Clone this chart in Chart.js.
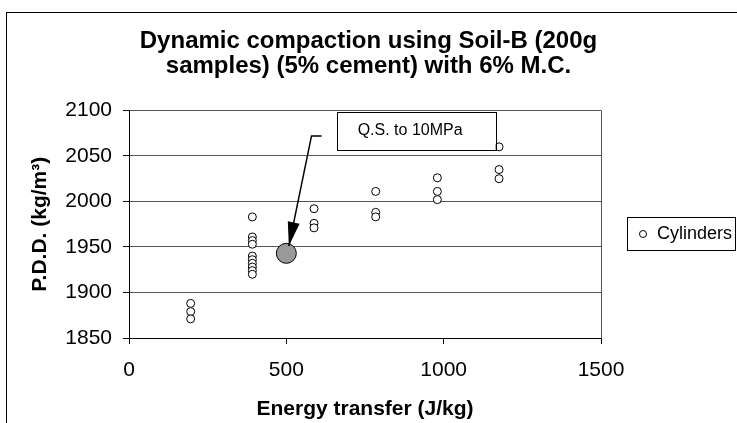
<!DOCTYPE html>
<html>
<head>
<meta charset="utf-8">
<script src="https://cdn.jsdelivr.net/npm/chart.js@4.4.1/dist/chart.umd.min.js"></script>
<style>
  body { margin: 0; background: #fff; }
  canvas { display: block; }
</style>
</head>
<body>
<canvas id="chart" width="737" height="423"></canvas>
<script>
const titleLines = ['Dynamic compaction using Soil-B (200g', 'samples) (5% cement) with 6% M.C.'];
const xTitle = 'Energy transfer (J/kg)';
const yTitle = 'P.D.D. (kg/m³)';
const seriesName = 'Cylinders';
const noteText = 'Q.S. to 10MPa';

const xTicks = [0, 500, 1000, 1500];
const yTicks = [1850, 1900, 1950, 2000, 2050, 2100];

// cylinders (energy in J/kg, density in kg/m3)
const energy = [196, 196, 196,
  392, 392, 392, 392, 392, 392, 392, 392, 392, 392,
  588, 588, 588,
  784, 784, 784,
  980, 980, 980,
  1176, 1176, 1176];
const density = [1888, 1879, 1871,
  1983, 1961, 1957, 1953, 1940, 1936, 1932, 1928, 1924, 1920,
  1992, 1976, 1971,
  2011, 1988, 1983,
  2026, 2011, 2002,
  2060, 2035, 2025];

// quasi-static point
const qsEnergy = [500];
const qsDensity = [1943];

const FONT = '"Liberation Sans", Arial, sans-serif';

function toPoints(xs, ys) {
  return xs.map((x, i) => ({ x: x, y: ys[i] }));
}

const decor = {
  id: 'decor',
  beforeDraw(chart) {
    const ctx = chart.ctx;
    ctx.save();
    ctx.fillStyle = '#fff';
    ctx.fillRect(0, 0, chart.width, chart.height);
    ctx.restore();
  },
  afterDraw(chart) {
    const ctx = chart.ctx;
    const xs = chart.scales.x;
    const ys = chart.scales.y;
    ctx.save();

    // outer frame
    ctx.strokeStyle = '#000';
    ctx.lineWidth = 1;
    ctx.strokeRect(6.5, 12.5, chart.width + 10, chart.height + 10);

    // note box
    const bx1 = xs.getPixelForValue(660), bx2 = xs.getPixelForValue(1165);
    const by1 = ys.getPixelForValue(2098.5), by2 = ys.getPixelForValue(2056.5);
    ctx.fillStyle = '#fff';
    ctx.fillRect(bx1, by1, bx2 - bx1, by2 - by1);
    ctx.strokeRect(Math.round(bx1) + 0.5, Math.round(by1) + 0.5, Math.round(bx2 - bx1), Math.round(by2 - by1));
    ctx.fillStyle = '#000';
    ctx.font = '16px ' + FONT;
    ctx.textAlign = 'center';
    ctx.textBaseline = 'middle';
    ctx.fillText(noteText, (bx1 + bx2) / 2 - 6, (by1 + by2) / 2);

    // arrow
    const sx = xs.getPixelForValue(612), sy = ys.getPixelForValue(2072);
    const ex = xs.getPixelForValue(580);
    const tx = xs.getPixelForValue(508), ty = ys.getPixelForValue(1951);
    ctx.beginPath();
    ctx.moveTo(sx, sy);
    ctx.lineTo(ex, sy);
    ctx.lineTo(tx, ty);
    ctx.lineWidth = 1.5;
    ctx.stroke();
    const ang = Math.atan2(ty - sy, tx - ex);
    const len = 24, half = 6;
    const bxh = tx - len * Math.cos(ang), byh = ty - len * Math.sin(ang);
    ctx.beginPath();
    ctx.moveTo(tx, ty);
    ctx.lineTo(bxh + half * Math.sin(ang), byh - half * Math.cos(ang));
    ctx.lineTo(bxh - half * Math.sin(ang), byh + half * Math.cos(ang));
    ctx.closePath();
    ctx.fill();

    // legend
    ctx.lineWidth = 1;
    ctx.strokeRect(627.5, 217.5, 108, 33);
    ctx.beginPath();
    ctx.arc(643, 234, 3.5, 0, Math.PI * 2);
    ctx.stroke();
    ctx.font = '18px ' + FONT;
    ctx.textAlign = 'left';
    ctx.fillText(seriesName, 657, 234);
    ctx.restore();
  }
};

new Chart(document.getElementById('chart'), {
  type: 'scatter',
  data: {
    datasets: [
      {
        label: seriesName,
        data: toPoints(energy, density),
        pointRadius: 4,
        pointBorderWidth: 1,
        pointBorderColor: '#000',
        pointBackgroundColor: '#fff',
      },
      {
        label: 'Q.S.',
        data: toPoints(qsEnergy, qsDensity),
        pointRadius: 10,
        pointBorderWidth: 1,
        pointBorderColor: '#000',
        pointBackgroundColor: '#999',
      },
    ],
  },
  options: {
    responsive: false,
    animation: false,
    events: [],
    layout: { padding: { left: 0, right: 0, top: 0, bottom: 0 } },
    plugins: {
      legend: { display: false },
      tooltip: { enabled: false },
      title: {
        display: true,
        text: titleLines,
        color: '#000',
        font: { family: FONT, size: 24, weight: 'bold', lineHeight: 1.05 },
        padding: { top: 29, bottom: 31 },
      },
    },
    scales: {
      x: {
        type: 'linear',
        min: xTicks[0],
        max: xTicks[xTicks.length - 1],
        afterBuildTicks: (scale) => { scale.ticks = xTicks.map(v => ({ value: v })); },
        afterFit: (scale) => { scale.height = 85; },
        ticks: { color: '#000', font: { family: FONT, size: 21 }, padding: 14, callback: (v) => String(v) },
        grid: {
          drawOnChartArea: true,
          color: (c) => c.index === xTicks.length - 1 ? '#555' : 'rgba(0,0,0,0)',
          tickColor: '#000',
          tickLength: 6,
        },
        border: { color: '#000', width: 1 },
        title: {
          display: true,
          text: xTitle,
          color: '#000',
          font: { family: FONT, size: 21, weight: 'bold', lineHeight: 1.2 },
          padding: { top: 0, bottom: 1 },
        },
      },
      y: {
        type: 'linear',
        min: yTicks[0],
        max: yTicks[yTicks.length - 1],
        afterBuildTicks: (scale) => { scale.ticks = yTicks.map(v => ({ value: v })); },
        afterFit: (scale) => { scale.width = 129; },
        ticks: { color: '#000', font: { family: FONT, size: 21 }, padding: 11, callback: (v) => String(v) },
        grid: {
          color: '#555',
          tickColor: '#000',
          tickLength: 6,
        },
        border: { color: '#000', width: 1 },
        title: {
          display: true,
          text: yTitle,
          color: '#000',
          font: { family: FONT, size: 21, weight: 'bold', lineHeight: 1.2 },
          padding: { top: 28, bottom: 0 },
        },
      },
      // empty right-hand strip that holds the legend
      side: {
        type: 'linear',
        position: 'right',
        display: true,
        grid: { display: false, drawTicks: false },
        ticks: { display: false },
        border: { display: false },
        afterFit: (scale) => { scale.width = 136; },
      },
    },
  },
  plugins: [decor],
});
</script>
</body>
</html>
